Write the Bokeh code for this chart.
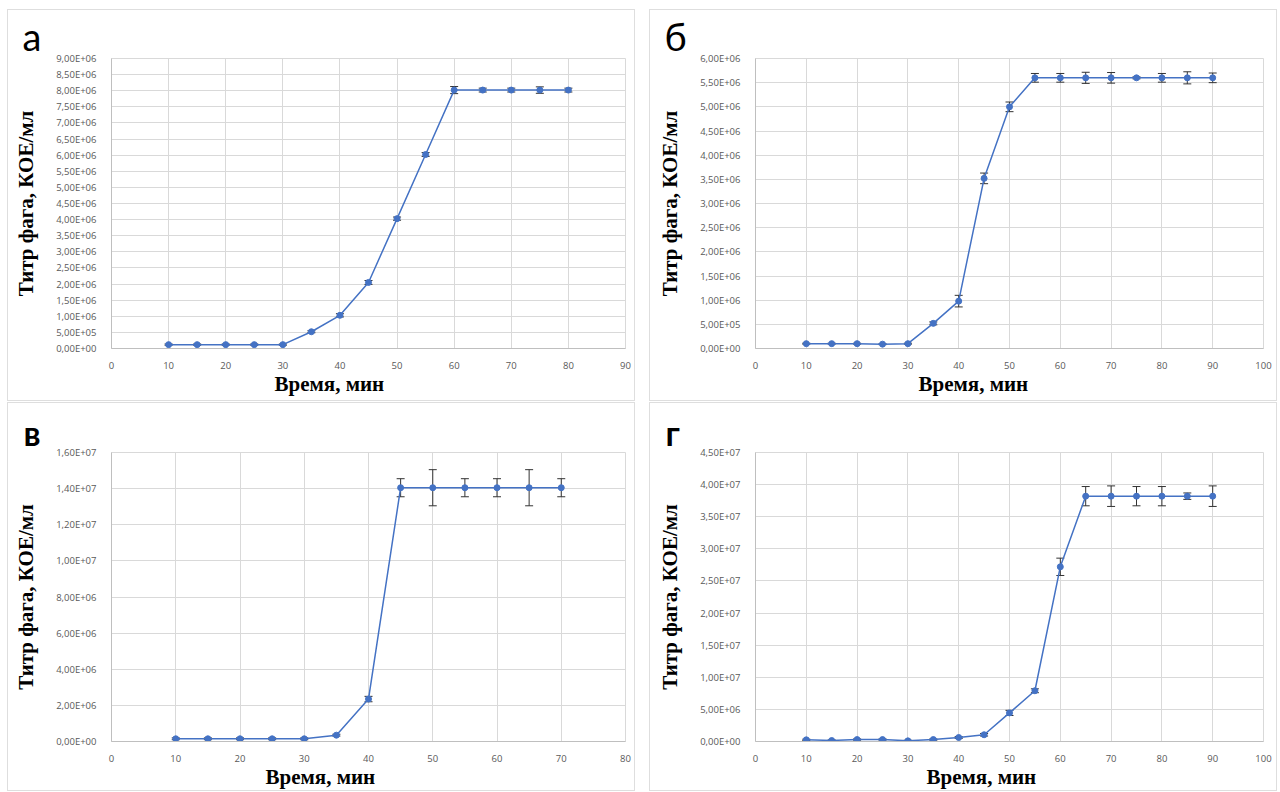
from bokeh.plotting import figure
from bokeh.layouts import column, row
from bokeh.models import (Range1d, FixedTicker, CustomJSTickFormatter, Whisker, TeeHead,
                          ColumnDataSource, Spacer, Title)
from bokeh.embed import file_html
from bokeh.resources import INLINE

# ---------------- data ----------------
t_a = [10, 15, 20, 25, 30, 35, 40, 45, 50, 55, 60, 65, 70, 75, 80]
y_a = [1.2e5, 1.2e5, 1.2e5, 1.2e5, 1.2e5, 5.2e5, 1.03e6, 2.05e6, 4.03e6, 6.02e6,
       8.02e6, 8.02e6, 8.02e6, 8.02e6, 8.02e6]
e_a = [2e4, 2e4, 2e4, 2e4, 2e4, 3e4, 5e4, 6e4, 5e4, 6e4, 1.1e5, 6e4, 6e4, 1.0e5, 6e4]

t_b = [10, 15, 20, 25, 30, 35, 40, 45, 50, 55, 60, 65, 70, 75, 80, 85, 90]
y_b = [1.0e5, 1.0e5, 1.0e5, 0.9e5, 1.0e5, 5.2e5, 9.8e5, 3.52e6, 5.0e6, 5.6e6,
       5.6e6, 5.6e6, 5.6e6, 5.6e6, 5.6e6, 5.6e6, 5.6e6]
e_b = [1e4, 1e4, 1e4, 1e4, 1e4, 3e4, 1.2e5, 1.1e5, 1.0e5, 0.9e5, 0.9e5, 1.15e5,
       1.1e5, 2e4, 0.9e5, 1.25e5, 1.0e5]

t_c = [10, 15, 20, 25, 30, 35, 40, 45, 50, 55, 60, 65, 70]
y_c = [1.5e5, 1.5e5, 1.5e5, 1.5e5, 1.5e5, 3.5e5, 2.35e6, 1.405e7, 1.405e7, 1.405e7,
       1.405e7, 1.405e7, 1.405e7]
e_c = [5e4, 5e4, 5e4, 5e4, 5e4, 5e4, 1.5e5, 5e5, 1e6, 5e5, 5e5, 1e6, 5e5]

t_d = [10, 15, 20, 25, 30, 35, 40, 45, 50, 55, 60, 65, 70, 75, 80, 85, 90]
y_d = [2.6e5, 1.5e5, 3e5, 3e5, 1e5, 3e5, 6.2e5, 1.05e6, 4.45e6, 7.9e6, 2.72e7,
       3.82e7, 3.82e7, 3.82e7, 3.82e7, 3.82e7, 3.82e7]
e_d = [1e5, 1e5, 1e5, 1e5, 1e5, 1e5, 1.5e5, 2e5, 4e5, 3e5, 1.35e6, 1.5e6, 1.6e6,
       1.5e6, 1.5e6, 5e5, 1.6e6]

letters = ["а", "б", "в", "г"]
x_title = "Время, мин"
y_title = "Титр фага, КОЕ/мл"

x_max = [90, 100, 80, 100]
y_max = [9e6, 6e6, 1.6e7, 4.5e7]
y_step = [5e5, 5e5, 2e6, 5e6]
x_step = 10

# ---------------- styling / layout ----------------
BLUE = "#4472C4"
GRID = "#d9d9d9"
TICK_COLOR = "#595959"
SANS = "Open Sans"
SERIF = "Liberation Serif"

# page-pixel geometry: canvas (x, y, w, h), frame (x, y, w, h)
canvas_geo = [(8, 10, 626, 390), (650, 10, 626, 390), (8, 403, 626, 387), (650, 403, 626, 387)]
frame_geo = [(111, 57, 514, 291), (755, 57, 508, 291), (111, 452, 514, 289), (755, 451, 508, 290)]
# letter: left x (page px), font size, style
letter_style = [(22, 38, "normal"), (664, 38, "normal"), (23, 34, "bold"), (665, 34, "bold")]
# x-title left edge (page px)
xtitle_left = [274, 918, 265, 926]

fmt = CustomJSTickFormatter(code="""
if (tick == 0) { return "0,00E+00"; }
const s = tick.toExponential(2);
const parts = s.split("e");
let e = parseInt(parts[1]);
const sign = e < 0 ? "-" : "+";
e = Math.abs(e);
return parts[0].replace(".", ",") + "E" + sign + (e < 10 ? "0" + e : "" + e);
""")


def make_panel(i, t, y, err):
    cx, cy, cw, ch = canvas_geo[i]
    fx, fy, fw, fh = frame_geo[i]
    xm, ym = x_max[i], y_max[i]

    p = figure(width=cw, height=ch, output_backend="svg", toolbar_location=None,
               x_range=Range1d(0, xm), y_range=Range1d(0, ym),
               min_border_left=fx - cx, min_border_right=(cx + cw) - (fx + fw),
               min_border_top=fy - cy, min_border_bottom=(cy + ch) - (fy + fh),
               background_fill_color="white", border_fill_color="white")
    p.outline_line_color = GRID
    p.styles = {"box-shadow": "0 0 0 1px #dedede"}

    # axes
    nx = int(round(xm / x_step))
    ny = int(round(ym / y_step[i]))
    p.xaxis.ticker = FixedTicker(ticks=[k * x_step for k in range(nx + 1)])
    p.yaxis.ticker = FixedTicker(ticks=[k * y_step[i] for k in range(ny + 1)])
    p.yaxis.formatter = fmt
    for ax in (p.xaxis, p.yaxis):
        ax.axis_line_color = "#bfbfbf"
        ax.major_tick_line_color = None
        ax.minor_tick_line_color = None
        ax.major_label_text_font = SANS
        ax.major_label_text_font_size = "9.5px"
        ax.major_label_text_color = TICK_COLOR
    p.xaxis.major_label_standoff = 7
    p.yaxis.major_label_standoff = 9
    p.yaxis.axis_label = y_title
    p.yaxis.axis_label_text_font = SERIF
    p.yaxis.axis_label_text_font_style = "bold"
    p.yaxis.axis_label_text_font_size = "21px"
    p.yaxis.axis_label_text_color = "black"
    p.yaxis.axis_label_standoff = 15

    p.xgrid.grid_line_color = GRID
    p.ygrid.grid_line_color = GRID

    upper = [a + b for a, b in zip(y, err)]
    lower = [a - b for a, b in zip(y, err)]
    src = ColumnDataSource(dict(t=t, y=y, upper=upper, lower=lower))
    p.line("t", "y", source=src, line_color=BLUE, line_width=1.5)
    p.scatter("t", "y", source=src, size=6, fill_color=BLUE, line_color=BLUE)
    w = Whisker(source=src, base="t", upper="upper", lower="lower",
                line_color="#333333", line_width=1,
                upper_head=TeeHead(size=8, line_color="#333333", line_width=1),
                lower_head=TeeHead(size=8, line_color="#333333", line_width=1))
    p.add_layout(w)

    # x title below the axis
    p.add_layout(Title(text=x_title, align="left", vertical_align="top",
                       offset=xtitle_left[i] - fx, standoff=0,
                       text_font=SERIF, text_font_style="bold",
                       text_font_size="21px", text_color="black"), "below")
    # panel letter above the frame
    lx, lsize, lstyle = letter_style[i]
    p.add_layout(Title(text=letters[i], align="left", vertical_align="bottom",
                       offset=lx - fx, standoff=0,
                       text_font="Lato", text_font_style=lstyle,
                       text_font_size=f"{lsize}px", text_color="black"), "above")
    return p


pa = make_panel(0, t_a, y_a, e_a)
pb = make_panel(1, t_b, y_b, e_b)
pc = make_panel(2, t_c, y_c, e_c)
pd = make_panel(3, t_d, y_d, e_d)

layout = column(
    Spacer(width=1280, height=10),
    row(Spacer(width=8, height=390), pa, Spacer(width=16, height=390), pb),
    Spacer(width=1280, height=3),
    row(Spacer(width=8, height=387), pc, Spacer(width=16, height=387), pd),
)

open("out.html", "w").write(file_html(layout, INLINE))
